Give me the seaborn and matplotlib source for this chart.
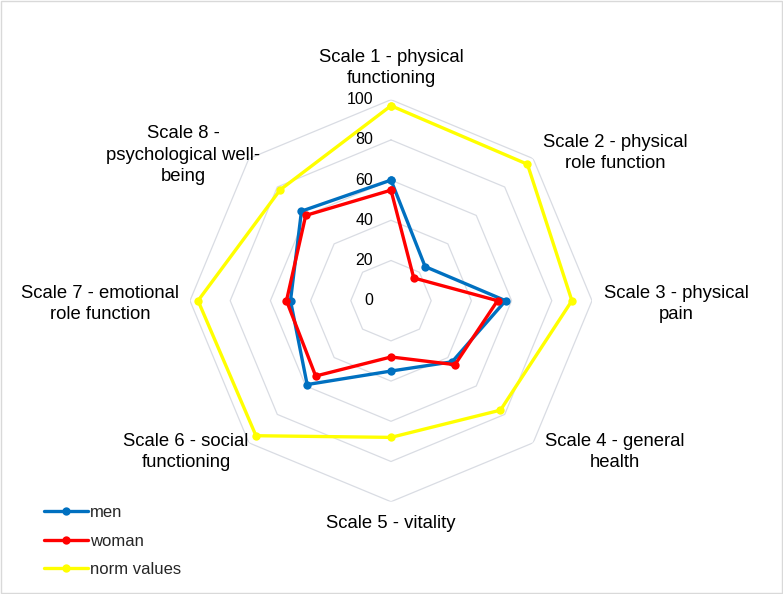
import numpy as np
import pandas as pd
import matplotlib
matplotlib.use('Agg')
import matplotlib.pyplot as plt
import matplotlib.transforms as mtransforms
from matplotlib.lines import Line2D
from matplotlib.patches import Rectangle
import seaborn as sns

# dane
scales = ['Scale 1 - physical\nfunctioning', 'Scale 2 - physical\nrole function',
          'Scale 3 - physical\npain', 'Scale 4 - general\nhealth',
          'Scale 5 - vitality', 'Scale 6 - social\nfunctioning',
          'Scale 7 - emotional\nrole function', 'Scale 8 -\npsychological well-\nbeing']
men = [60, 24, 57, 43, 35, 59, 50, 63]
woman = [55, 16, 53, 45, 28, 53, 52, 60]
norm_values = [97, 96, 90, 77, 68, 95, 96, 78]
levels = [0, 20, 40, 60, 80, 100]

series_names = ['men', 'woman', 'norm values']
colors = {'men': '#0070C0', 'woman': '#FF0000', 'norm values': '#FFFF00'}

sns.set_theme(style='white')
plt.rcParams['font.family'] = ['Liberation Sans', 'DejaVu Sans']

W, H = 783, 594
fig = plt.figure(figsize=(W / 100, H / 100), dpi=100)
cx, cy, R = 391, 300.7, 201
ax = fig.add_axes([(cx - R) / W, (H - cy - R) / H, 2 * R / W, 2 * R / H], projection='polar')
ax.set_theta_offset(np.pi / 2)
ax.set_theta_direction(-1)

n = len(scales)
angles = np.arange(n) * 2 * np.pi / n
closed = np.append(angles, angles[0])

# siatka w ksztalcie osmiokata
for lv in levels[1:]:
    ax.plot(closed, [lv] * (n + 1), color='#d9dce3', lw=0.9, zorder=1)

rows = []
for name, vals in zip(series_names, [men, woman, norm_values]):
    for a, v in zip(closed, vals + vals[:1]):
        rows.append({'series': name, 'angle': a, 'value': v})
df = pd.DataFrame(rows)

sns.lineplot(data=df, x='angle', y='value', hue='series', hue_order=series_names,
             palette=colors, sort=False, marker='o', markersize=6, markeredgewidth=0,
             linewidth=2.4, estimator=None, legend=False, ax=ax, zorder=3)

ax.set_ylim(0, 100)
ax.set_xticks([])
ax.set_yticks([])
ax.grid(False)
ax.spines['polar'].set_visible(False)
ax.set_xlabel('')
ax.set_ylabel('')
ax.patch.set_alpha(0)

# etykiety osi wartosci
off = mtransforms.offset_copy(ax.transData, fig=fig, x=-18, y=0, units='dots')
for lv in levels:
    ax.text(0, lv, str(lv), transform=off, ha='right', va='center', fontsize=11.5, color='black')

# etykiety skal
label_pos = [(391, 68), (615, 153), (676, 304), (615, 452),
             (391, 523), (186, 452), (100, 304), (183, 155)]
for txt, (px, py) in zip(scales, label_pos):
    fig.text(px / W, 1 - py / H, txt, ha='center', va='center', fontsize=13.3,
             linespacing=1.33, color='black')

handles = [Line2D([], [], color=colors[s], lw=2.4, marker='o', markersize=6,
                  markeredgewidth=0) for s in series_names]
fig.legend(handles, series_names, loc='center left', bbox_to_anchor=(36 / W, 1 - 541 / H),
           frameon=False, fontsize=12, handlelength=2.6, handletextpad=0.15,
           labelspacing=0.8, borderpad=0)

fig.add_artist(Rectangle((0.001, 0.001), 0.998, 0.998, transform=fig.transFigure,
                         fill=False, edgecolor='#d9d9d9', lw=1))

fig.savefig('out.png', dpi=100)
